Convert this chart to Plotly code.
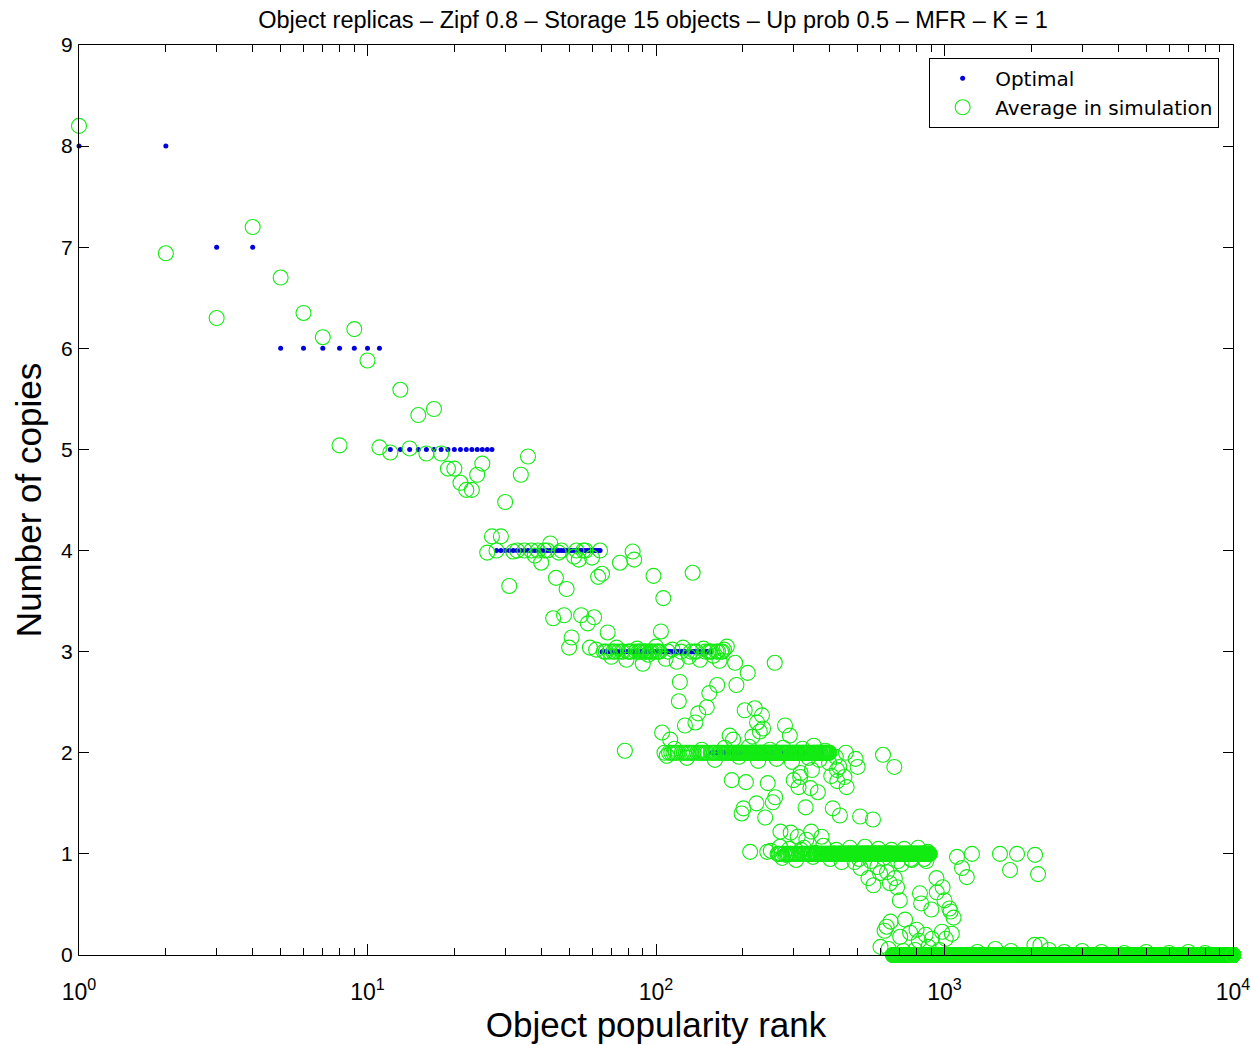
import plotly.graph_objects as go

# ---------------- data ----------------
# Optimal number of copies: run-length form (level held over a rank range)
opt_levels = [8, 7, 6, 5, 4, 3, 2, 1, 0]
opt_first_rank = [1, 3, 5, 12, 28, 65, 156, 376, 871]
opt_last_rank = [2, 4, 11, 27, 64, 155, 375, 870, 10000]

# Average in simulation: individually read points (outliers)
sim_ranks = [1, 2, 3, 4, 5, 6, 7, 8, 9, 10, 11, 12, 13, 14, 15, 16, 17, 18, 19, 20,
             21, 22, 23, 24, 25, 26, 27, 29, 30, 31, 32, 34, 36, 38, 40, 43, 44, 45, 46, 48,
             49, 50, 51, 52, 54, 55, 57, 58, 59, 60, 61, 62, 63, 65, 68, 75, 78, 83, 84, 98,
             104, 105, 106, 112, 120, 121, 126, 134, 137, 140, 150, 153, 163, 176, 180, 183, 185, 188, 190, 198,
             201, 203, 205, 208, 212, 216, 220, 223, 224, 229, 233, 235, 239, 243, 244, 254, 258, 259, 269, 270,
             280, 282, 291, 293, 300, 310, 312, 316, 317, 318, 330, 332, 343, 345, 347, 357, 364, 375, 405, 410,
             424, 425, 432, 434, 450, 455, 458, 488, 492, 500, 510, 512, 545, 565, 567, 585, 598, 600, 612, 620,
             630, 632, 640, 647, 650, 670, 673, 685, 700, 702, 710, 720, 730, 760, 765, 790, 800, 815, 822, 830,
             860, 865, 880, 900, 905, 938, 940, 960, 980, 985, 1000, 1010, 1040, 1050, 1060, 1075, 1105, 1150, 1195, 1245,
             1300, 1500, 1557, 1687, 1700, 1784, 2050, 2060, 2110, 2150, 2300, 2600, 3000, 3500, 4200, 5000, 6000, 7000, 8000]
sim_values = [8.20, 6.94, 6.30, 7.20, 6.70, 6.35, 6.11, 5.04, 6.19, 5.88, 5.02, 4.97, 5.59, 5.01, 5.34, 4.96, 5.40, 4.96, 4.81, 4.81,
              4.67, 4.60, 4.60, 4.75, 4.86, 3.98, 4.14, 4.14, 4.48, 3.65, 3.99, 4.75, 4.93, 3.95, 3.88, 4.07, 3.33, 3.73, 3.98, 3.36,
              3.62, 3.04, 3.14, 3.94, 3.91, 3.36, 4.00, 3.28, 3.04, 3.93, 3.34, 3.02, 3.74, 3.77, 3.19, 3.88, 2.02, 3.99, 3.91, 3.75,
              3.20, 2.20, 3.53, 2.13, 2.51, 2.70, 2.27, 3.78, 2.30, 2.39, 2.45, 2.59, 2.67, 3.05, 2.17, 1.73, 2.13, 2.89, 2.67, 1.40,
              1.45, 2.42, 1.71, 2.79, 1.02, 2.16, 2.44, 1.50, 2.30, 2.21, 2.37, 2.24, 1.36, 1.02, 1.70, 1.51, 2.89, 1.56, 1.07, 1.22,
              2.27, 0.99, 2.17, 1.21, 1.73, 1.17, 1.66, 1.76, 1.80, 1.04, 1.46, 1.14, 1.65, 1.22, 1.83, 1.01, 1.61, 1.17, 1.77, 1.45,
              1.83, 1.72, 1.86, 1.38, 1.76, 2.00, 1.66, 0.92, 1.94, 1.86, 1.37, 0.86, 0.76, 1.34, 0.69, 0.87, 0.81, 0.08, 1.98, 0.24,
              0.28, 0.82, 0.06, 0.71, 0.33, 1.86, 0.76, 0.67, 0.54, 0.18, 0.90, 0.04, 0.35, 0.22, 0.95, 0.05, 0.25, 0.14, 0.61, 0.51,
              0.20, 0.93, 0.08, 0.45, 0.16, 0.76, 0.62, 0.05, 0.23, 0.67, 0.54, 0.16, 0.46, 0.43, 0.21, 0.37, 0.97, 0.86, 0.77, 1.00,
              0.03, 0.06, 1.00, 0.84, 0.04, 1.00, 0.10, 0.99, 0.80, 0.10, 0.05, 0.03, 0.04, 0.03, 0.02, 0.03, 0.02, 0.03, 0.02]

# Average in simulation: points read just off the levels (spread of the dense clusters)
near_ranks = [70, 73, 79, 86, 90, 94, 100, 108, 114, 118, 124, 130, 142, 146, 158, 166, 172,
              109, 116, 128, 144, 160, 173, 194, 210, 226, 248, 262, 276, 296, 322, 338, 352, 368, 386, 398, 420,
              250, 274, 290, 306, 326, 350, 380, 402, 422, 440, 470, 505, 530, 555, 590, 615, 655, 690, 725, 770, 810, 850, 875]
near_values = [2.95, 3.04, 2.92, 3.03, 2.88, 2.97, 3.05, 2.93, 3.02, 2.90, 3.04, 2.95, 2.92, 3.03, 2.96, 2.91, 3.02,
               1.97, 2.04, 1.95, 2.03, 1.93, 2.05, 1.96, 2.06, 1.92, 2.03, 1.94, 2.05, 1.91, 2.04, 1.95, 2.07, 1.93, 2.02, 1.90, 1.96,
               1.03, 0.96, 1.05, 0.94, 1.06, 0.97, 1.08, 0.95, 1.04, 0.92, 1.06, 0.95, 1.07, 0.93, 1.05, 0.96, 1.04, 0.93, 1.05, 0.94, 1.06, 0.95, 1.02]

# Average in simulation: dense bands of ranks sitting on a level
band_levels = [4, 3, 3, 2, 2, 2, 1, 1, 1, 0, 0]
band_first = [28, 64, 106, 107, 170, 261, 262, 401, 661, 662, 891]
band_last = [64, 105, 170, 169, 260, 400, 400, 660, 890, 890, 10000]
band_step = [1, 1, 2, 2, 1, 2, 2, 1, 2, 2, 1]

x_tick_vals = [1, 10, 100, 1000, 10000]
x_tick_text = ["10<sup>0</sup>", "10<sup>1</sup>", "10<sup>2</sup>", "10<sup>3</sup>", "10<sup>4</sup>"]
x_minor_vals = [m * d for d in [1, 10, 100, 1000] for m in range(2, 10)]
y_tick_vals = [0, 1, 2, 3, 4, 5, 6, 7, 8, 9]

# ---------------- build series ----------------
opt_x, opt_y = [], []
for lev, a, b in zip(opt_levels, opt_first_rank, opt_last_rank):
    for r in range(a, b + 1):
        opt_x.append(r)
        opt_y.append(lev)

sim = dict(zip(sim_ranks, sim_values))
for r, v in zip(near_ranks, near_values):
    if r not in sim:
        sim[r] = v
for lev, a, b, s in zip(band_levels, band_first, band_last, band_step):
    for r in range(a, b + 1, s):
        if r not in sim:
            sim[r] = lev
sim_x = sorted(sim)
sim_y = [sim[r] for r in sim_x]

FONT = "Liberation Sans, Arial, Helvetica, sans-serif"
LEG_FONT = "DejaVu Sans, Liberation Sans, Arial, sans-serif"

fig = go.Figure()
fig.add_trace(go.Scatter(
    x=opt_x, y=opt_y, mode="markers", name="Optimal",
    marker=dict(symbol="circle", size=5, color="rgb(0,0,220)", line=dict(width=0)),
    cliponaxis=False,
))
fig.add_trace(go.Scatter(
    x=sim_x, y=sim_y, mode="markers", name="Average in simulation",
    marker=dict(symbol="circle-open", size=15, color="rgb(20,235,20)", line=dict(width=1.1, color="rgb(20,235,20)")),
    cliponaxis=False,
))

fig.update_layout(
    width=1251, height=1045,
    margin=dict(l=79, r=18, t=45, b=90, autoexpand=False),
    paper_bgcolor="white", plot_bgcolor="white",
    font=dict(family=FONT, color="black"),
    title=dict(text="Object replicas – Zipf 0.8 – Storage 15 objects – Up prob 0.5 – MFR – K = 1",
               font=dict(size=23.5, family=FONT, color="black"),
               x=653 / 1251, xanchor="center", xref="container", y=1 - 20 / 1045, yanchor="middle", yref="container"),
    showlegend=True,
    legend=dict(x=0.988, xanchor="right", y=0.986, yanchor="top",
                bgcolor="white", bordercolor="black", borderwidth=1,
                font=dict(size=20, family=LEG_FONT, color="black"),
                itemwidth=55, tracegroupgap=0),
)

fig.update_xaxes(
    type="log", range=[0, 4],
    tickvals=x_tick_vals, ticktext=x_tick_text,
    ticks="inside", ticklen=11, tickwidth=1, tickcolor="black",
    minor=dict(tickvals=x_minor_vals, ticks="inside", ticklen=7, tickwidth=1, tickcolor="black", showgrid=False),
    showline=True, linecolor="black", linewidth=1, mirror="ticks",
    showgrid=False, zeroline=False,
    tickfont=dict(size=23, family=FONT, color="black"),
    ticklabelstandoff=16,
    title=dict(text="Object popularity rank", font=dict(size=35, family=FONT, color="black"), standoff=2),
)
fig.update_yaxes(
    range=[0, 9], tickvals=y_tick_vals,
    ticks="inside", ticklen=10, tickwidth=1, tickcolor="black",
    showline=True, linecolor="black", linewidth=1, mirror="ticks",
    showgrid=False, zeroline=False,
    tickfont=dict(size=21, family=FONT, color="black"),
    ticklabelstandoff=1,
    title=dict(text="Number of copies", font=dict(size=35, family=FONT, color="black"), standoff=8),
)

fig.write_html("out.html", config={"displayModeBar": False},
               post_script="document.body.style.margin='0';document.body.style.padding='0';")
